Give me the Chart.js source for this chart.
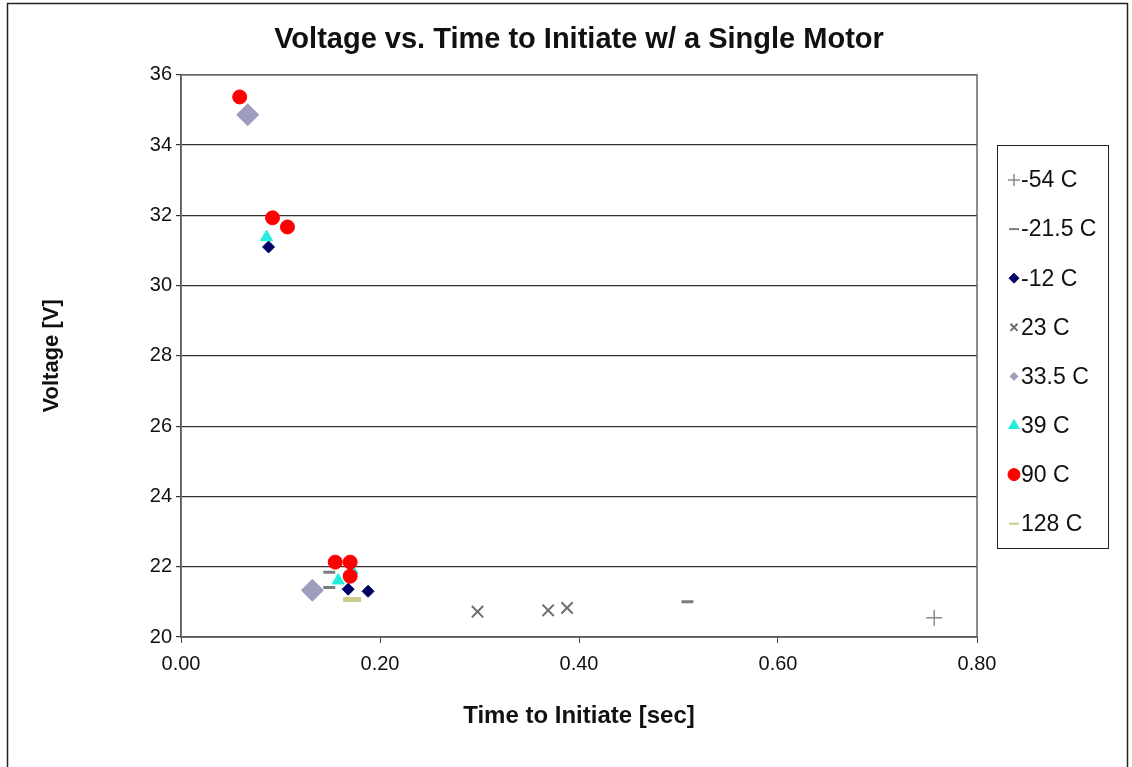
<!DOCTYPE html>
<html>
<head>
<meta charset="utf-8">
<title>Voltage vs. Time to Initiate</title>
<script src="https://cdn.jsdelivr.net/npm/chart.js@4.4.1/dist/chart.umd.min.js"></script>
<style>
    html, body { margin: 0; padding: 0; background: #fff; }
    #wrap { width: 1132px; height: 767px; }
</style>
</head>
<body>
<div id="wrap"><canvas id="voltChart" width="1132" height="767"></canvas></div>
<script>
// Series data (x = time [sec], y = voltage [V])
const seriesLabels = ['-54 C', '-21.5 C', '-12 C', '23 C', '33.5 C', '39 C', '90 C', '128 C'];

const tMinus54 = [{ x: 0.757, y: 20.55 }];
const tMinus21 = [{ x: 0.149, y: 21.84 }, { x: 0.149, y: 21.41 }, { x: 0.509, y: 21.0 }];
const tMinus12 = [{ x: 0.088, y: 31.1 }, { x: 0.168, y: 21.36 }, { x: 0.188, y: 21.3 }];
const t23 = [{ x: 0.298, y: 20.72 }, { x: 0.369, y: 20.76 }, { x: 0.388, y: 20.83 }];
const t33 = [{ x: 0.067, y: 34.86 }, { x: 0.132, y: 21.33 }];
const t39 = [{ x: 0.086, y: 31.38 }, { x: 0.158, y: 21.61 }, { x: 0.172, y: 21.9 }];
const t90 = [{ x: 0.059, y: 35.37 }, { x: 0.092, y: 31.93 }, { x: 0.107, y: 31.67 },
             { x: 0.155, y: 22.13 }, { x: 0.170, y: 22.13 }, { x: 0.170, y: 21.73 }];
const t128 = [{ x: 0.172, y: 21.07 }];

// Axis ranges
const xMin = 0, xMax = 0.8, xStep = 0.2;
const yMin = 20, yMax = 36, yStep = 2;

const FONT = "'Liberation Sans', Arial, sans-serif";

// marker look for each series
const styles = [
    { pointStyle: 'cross', radius: 8, color: '#8a8a8a', fill: '#8a8a8a', width: 1.5, legendR: 6 },
    { pointStyle: 'line', radius: 6, color: '#7c7c7c', fill: '#7c7c7c', width: 3, legendR: 5 },
    { pointStyle: 'rectRot', radius: 6, color: '#000066', fill: '#000066', width: 1, legendR: 5 },
    { pointStyle: 'crossRot', radius: 8, color: '#6e6e6e', fill: '#6e6e6e', width: 2, legendR: 5 },
    { pointStyle: 'rectRot', radius: 11, color: '#9f9dbd', fill: '#9f9dbd', width: 1, legendR: 4 },
    { pointStyle: 'triangle', radius: 7, color: '#22eedd', fill: '#22eedd', width: 1, legendR: 6 },
    { pointStyle: 'circle', radius: 7, color: '#ff0000', fill: '#ff0000', width: 1, legendR: 6 },
    { pointStyle: 'line', radius: 9, color: '#c9cc8a', fill: '#c9cc8a', width: 5, legendR: 5 }
];

const allData = [tMinus54, tMinus21, tMinus12, t23, t33, t39, t90, t128];

const datasets = allData.map((pts, i) => ({
    label: seriesLabels[i],
    data: pts,
    pointStyle: styles[i].pointStyle,
    pointRadius: styles[i].radius,
    pointHoverRadius: styles[i].radius,
    pointBorderWidth: styles[i].width,
    borderColor: styles[i].color,
    backgroundColor: styles[i].fill,
    showLine: false,
    order: allData.length - i   // later series drawn on top, like the original
}));

// frame round the plot area and the whole picture
const framePlugin = {
    id: 'frame',
    beforeDatasetsDraw(chart) {
        const { ctx, chartArea: a } = chart;
        ctx.save();
        ctx.strokeStyle = '#666';
        ctx.lineWidth = 1.5;
        ctx.strokeRect(a.left, a.top, a.right - a.left, a.bottom - a.top);
        ctx.restore();
    },
    afterDraw(chart) {
        const ctx = chart.ctx;
        ctx.save();
        ctx.strokeStyle = '#222';
        ctx.lineWidth = 1.5;
        ctx.strokeRect(7.5, 3.5, 1120, 800);
        ctx.restore();
    }
};

// boxed legend on the right
const legendPlugin = {
    id: 'boxLegend',
    afterDraw(chart) {
        const ctx = chart.ctx;
        const box = { left: 997, top: 145, width: 111, height: 403 };
        ctx.save();
        ctx.strokeStyle = '#222';
        ctx.lineWidth = 1;
        ctx.strokeRect(box.left + 0.5, box.top + 0.5, box.width, box.height);
        ctx.font = '23px ' + FONT;
        ctx.textBaseline = 'middle';
        chart.data.datasets.forEach((ds, i) => {
            const y = 180 + i * 49.1;
            const st = styles[i];
            ctx.strokeStyle = st.color;
            ctx.fillStyle = st.fill;
            ctx.lineWidth = Math.min(st.width, 2);
            Chart.helpers.drawPoint(ctx, {
                pointStyle: st.pointStyle,
                radius: st.legendR,
                rotation: 0,
                borderWidth: ctx.lineWidth
            }, 1014, y);
            ctx.fillStyle = '#111';
            ctx.fillText(ds.label, 1021, y + 1);
        });
        ctx.restore();
    }
};

const ctx = document.getElementById('voltChart').getContext('2d');
const chart = new Chart(ctx, {
    type: 'scatter',
    data: { datasets: datasets },
    options: {
        responsive: false,
        animation: false,
        layout: { padding: { left: 10, right: 155, top: 0, bottom: 20 } },
        plugins: {
            legend: { display: false },
            tooltip: { enabled: false },
            title: {
                display: true,
                fullSize: false,
                text: 'Voltage vs. Time to Initiate w/ a Single Motor',
                color: '#111',
                font: { family: FONT, size: 29, weight: 'bold' },
                padding: { top: 23, bottom: 17 }
            }
        },
        scales: {
            x: {
                type: 'linear',
                min: xMin,
                max: xMax,
                afterFit: (s) => { s.height = 110; },
                ticks: {
                    stepSize: xStep,
                    color: '#111',
                    font: { family: FONT, size: 20 },
                    padding: 9,
                    callback: (v) => v.toFixed(2)
                },
                grid: { drawOnChartArea: false, drawTicks: true, tickLength: 6, color: '#444' },
                border: { display: true, color: '#444', width: 1.5 },
                title: {
                    display: true,
                    text: 'Time to Initiate [sec]',
                    color: '#111',
                    font: { family: FONT, size: 24, weight: 'bold' },
                    padding: { top: 0, bottom: 16 }
                }
            },
            y: {
                type: 'linear',
                min: yMin,
                max: yMax,
                afterFit: (s) => { s.width = 171; },
                ticks: {
                    stepSize: yStep,
                    color: '#111',
                    font: { family: FONT, size: 20 },
                    padding: 4
                },
                grid: { drawTicks: true, tickLength: 5, color: '#333', lineWidth: 1.2 },
                border: { display: true, color: '#444', width: 1.5 },
                title: {
                    display: true,
                    text: 'Voltage [V]',
                    color: '#111',
                    font: { family: FONT, size: 22, weight: 'bold' },
                    padding: { top: 29, bottom: 0 }
                }
            }
        }
    },
    plugins: [framePlugin, legendPlugin]
});
</script>
</body>
</html>
